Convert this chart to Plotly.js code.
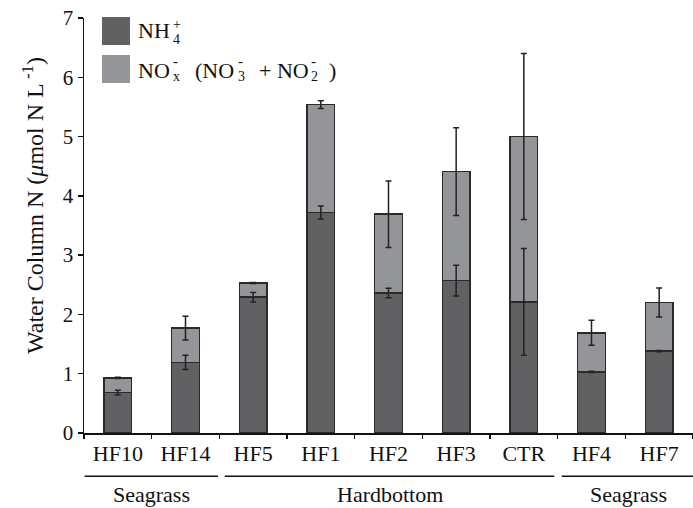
<!DOCTYPE html>
<html>
<head>
<meta charset="utf-8">
<script src="https://cdn.plot.ly/plotly-3.0.1.min.js"></script>
<style>html,body{margin:0;padding:0;background:#fff;}#chart{width:693px;height:508px;}</style>
</head>
<body>
<div id="chart"></div>
<script>
const sites = ["HF10", "HF14", "HF5", "HF1", "HF2", "HF3", "CTR", "HF4", "HF7"];
const nh4 = [0.68, 1.19, 2.29, 3.72, 2.36, 2.57, 2.21, 1.03, 1.38];
const nh4Err = [0.04, 0.12, 0.08, 0.11, 0.08, 0.26, 0.90, 0.01, 0.01];
const nox = [0.25, 0.58, 0.24, 1.82, 1.33, 1.84, 2.79, 0.66, 0.82];
const noxErr = [0.01, 0.20, 0.01, 0.065, 0.56, 0.74, 1.40, 0.21, 0.245];
const groups = ["Seagrass", "Hardbottom", "Seagrass"];
const groupSpans = [[-0.49, 1.48], [1.58, 6.45], [6.56, 8.52]];

const darkC = "#616163", lightC = "#949599", edge = "#2a2a2a";
const FONT = "Liberation Serif, Times New Roman, serif";
const totals = nh4.map((v, i) => v + nox[i]);

const traces = [
  {type: "bar", x: sites, y: nh4, name: "NH4", marker: {color: darkC, line: {color: edge, width: 1.5}}, showlegend: false, hoverinfo: "skip"},
  {type: "bar", x: sites, y: nox, name: "NOx", marker: {color: lightC, line: {color: edge, width: 1.5}}, showlegend: false, hoverinfo: "skip"},
  {type: "scatter", mode: "markers", x: sites, y: nh4, marker: {opacity: 0, size: 2}, showlegend: false, hoverinfo: "skip",
   error_y: {type: "data", array: nh4Err, color: "#222", thickness: 1.5, width: 3}},
  {type: "scatter", mode: "markers", x: sites, y: totals, marker: {opacity: 0, size: 2}, showlegend: false, hoverinfo: "skip",
   error_y: {type: "data", array: noxErr, color: "#222", thickness: 1.5, width: 3}}
];

const shapes = [
  {type: "rect", xref: "paper", yref: "paper", x0: 18/609, x1: 46/609, y0: (433-45)/415, y1: (433-17)/415, fillcolor: darkC, line: {width: 0}},
  {type: "rect", xref: "paper", yref: "paper", x0: 18/609, x1: 46/609, y0: (433-83)/415, y1: (433-55)/415, fillcolor: lightC, line: {width: 0}}
];
groupSpans.forEach(s => shapes.push({type: "line", xref: "x", yref: "paper", x0: s[0], x1: s[1], y0: -0.104, y1: -0.104, line: {color: "#111", width: 1.5}}));

const annotations = [];
groups.forEach((g, i) => annotations.push({xref: "x", yref: "paper", x: (groupSpans[i][0] + groupSpans[i][1]) / 2, y: -0.149, text: g, showarrow: false, yanchor: "middle", font: {family: FONT, size: 22, color: "#111"}}));

function txt(px, py, t, size, anchor) {
  annotations.push({xref: "paper", yref: "paper", x: (px - 84) / 609, y: (433 - py) / 415, text: t, showarrow: false,
    xanchor: anchor || "left", yanchor: "middle", font: {family: FONT, size: size, color: "#111"}});
}
// legend text (stacked sub/superscripts)
txt(136, 31, "NH", 22);
txt(171, 25, "+", 14);
txt(171, 39, "4", 14);
txt(136, 70, "NO", 22);
txt(171, 61, "-", 15);
txt(171, 77, "x", 14);
txt(193, 70, "(NO", 22);
txt(236, 61, "-", 15);
txt(236, 77, "3", 14);
txt(257, 70, "+ NO", 22);
txt(309, 61, "-", 15);
txt(309, 77, "2", 14);
txt(327, 70, ")", 22);
// y-axis title
annotations.push({xref: "paper", yref: "paper", x: (33 - 84) / 609, y: (433 - 206) / 415, textangle: -90, showarrow: false,
  xanchor: "center", yanchor: "middle", text: "Water Column N (<i>μ</i>mol N L<sup> -1</sup>)", font: {family: FONT, size: 24, color: "#111"}});

const layout = {
  width: 693, height: 508,
  margin: {l: 84, r: 0, t: 18, b: 75},
  paper_bgcolor: "#fff", plot_bgcolor: "#fff",
  barmode: "stack", bargap: 0.59,
  hovermode: false,
  font: {family: FONT, color: "#111"},
  xaxis: {type: "category", showline: true, linecolor: "#111", linewidth: 1.5, ticks: "outside", tickson: "boundaries",
    ticklen: 4, tickwidth: 1.5, tickcolor: "#111", showgrid: false, zeroline: false,
    tickfont: {family: FONT, size: 22, color: "#111"}, range: [-0.5, 8.5]},
  yaxis: {range: [0, 7], dtick: 1, showline: true, linecolor: "#111", linewidth: 1.5, ticks: "outside", ticklen: 5,
    tickwidth: 1.5, tickcolor: "#111", showgrid: false, zeroline: false, tickfont: {family: FONT, size: 21, color: "#111"}},
  shapes: shapes,
  annotations: annotations
};
Plotly.newPlot("chart", traces, layout, {displayModeBar: false, staticPlot: true});
</script>
</body>
</html>
